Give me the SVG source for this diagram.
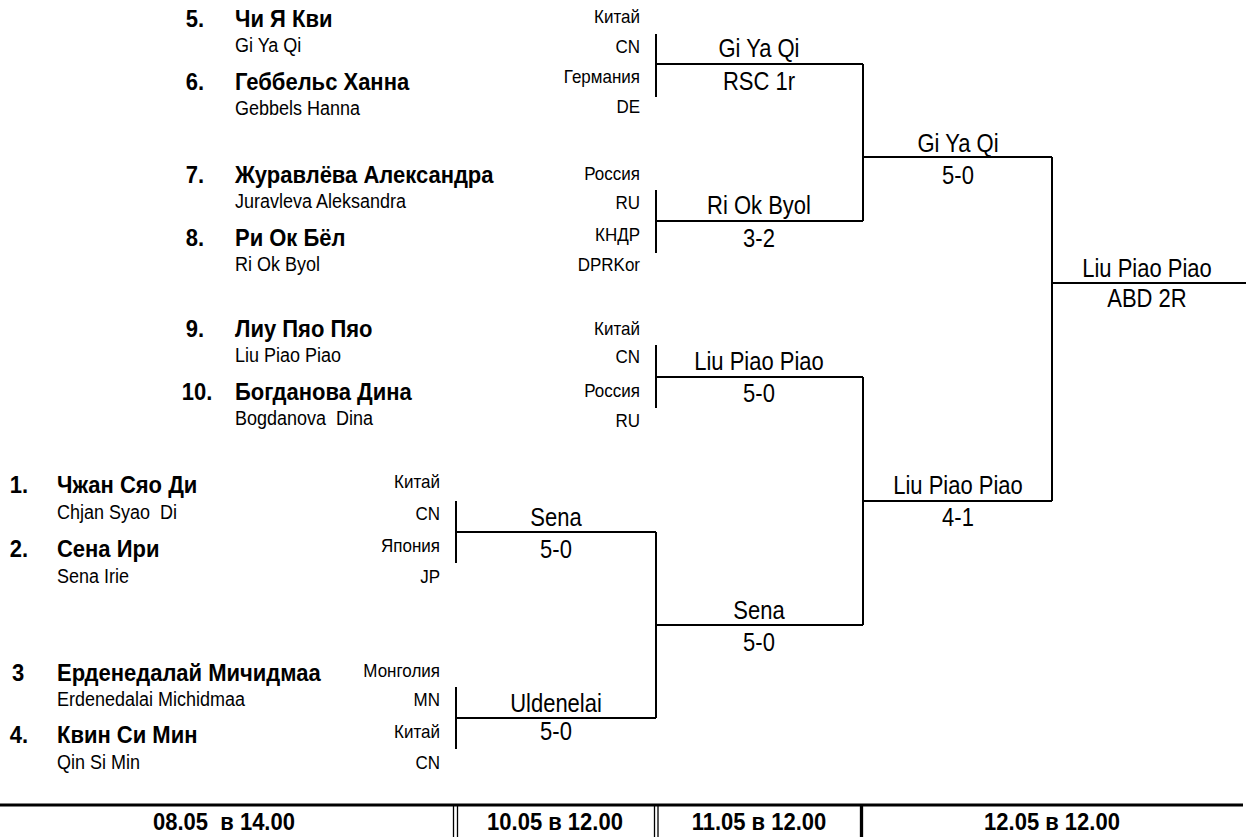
<svg xmlns="http://www.w3.org/2000/svg" width="1246" height="837" viewBox="0 0 1246 837">
<style>
text{font-family:"Liberation Sans",Arial,sans-serif;fill:#000;white-space:pre;transform-box:fill-box;transform-origin:0 81%;transform:scaleY(1.1)}
.num{font-size:22px;font-weight:bold;text-anchor:middle}
.nm{font-size:22px;font-weight:bold}
.sub{font-size:18px}
.cty{font-size:17px;text-anchor:end}
.lbl{font-size:22px;text-anchor:middle;transform:scaleY(1.15)}
.ft{font-size:22px;font-weight:bold;text-anchor:middle}
.ln{stroke:#000;stroke-width:2;fill:none}
</style>
<rect width="1246" height="837" fill="#fff"/>
<g id="connectors">
<path class="ln" d="M656,34V97M656,64H863M656,190V253M656,221H863M863,64V221M863,157H1052"/>
<path class="ln" d="M656,345V408M656,377H863M863,377V625M863,501H1052M1052,157V501M1052,283H1246"/>
<path class="ln" d="M456,501V563M456,532H656M456,687V749M456,718H656M656,532V718M656,625H863"/>
</g>
<g id="p5"><text class="num" x="195" y="27">5.</text><text class="nm" x="235" y="27">Чи Я Кви</text><text class="sub" x="235" y="52">Gi Ya Qi</text><text class="cty" x="640" y="23">Китай</text><text class="cty" x="640" y="53">CN</text></g>
<g id="p6"><text class="num" x="195" y="90">6.</text><text class="nm" x="235" y="90">Геббельс Ханна</text><text class="sub" x="235" y="115">Gebbels Hanna</text><text class="cty" x="640" y="83">Германия</text><text class="cty" x="640" y="113">DE</text></g>
<g id="p7"><text class="num" x="195" y="183">7.</text><text class="nm" x="235" y="183">Журавлёва Александра</text><text class="sub" x="235" y="208">Juravleva Aleksandra</text><text class="cty" x="640" y="180">Россия</text><text class="cty" x="640" y="209">RU</text></g>
<g id="p8"><text class="num" x="195" y="246">8.</text><text class="nm" x="235" y="246">Ри Ок Бёл</text><text class="sub" x="235" y="271">Ri Ok Byol</text><text class="cty" x="640" y="241">КНДР</text><text class="cty" x="640" y="271">DPRKor</text></g>
<g id="p9"><text class="num" x="195" y="337">9.</text><text class="nm" x="235" y="337">Лиу Пяо Пяо</text><text class="sub" x="235" y="362">Liu Piao Piao</text><text class="cty" x="640" y="335">Китай</text><text class="cty" x="640" y="363">CN</text></g>
<g id="p10"><text class="num" x="197" y="400">10.</text><text class="nm" x="235" y="400">Богданова Дина</text><text class="sub" x="235" y="425">Bogdanova  Dina</text><text class="cty" x="640" y="397">Россия</text><text class="cty" x="640" y="427">RU</text></g>
<g id="p1"><text class="num" x="19" y="493">1.</text><text class="nm" x="57" y="493">Чжан Сяо Ди</text><text class="sub" x="57" y="519">Chjan Syao  Di</text><text class="cty" x="440" y="488">Китай</text><text class="cty" x="440" y="520">CN</text></g>
<g id="p2"><text class="num" x="19" y="557">2.</text><text class="nm" x="57" y="557">Сена Ири</text><text class="sub" x="57" y="583">Sena Irie</text><text class="cty" x="440" y="552">Япония</text><text class="cty" x="440" y="583">JP</text></g>
<g id="p3"><text class="num" x="18" y="681">3</text><text class="nm" x="57" y="681">Ерденедалай Мичидмаа</text><text class="sub" x="57" y="706">Erdenedalai Michidmaa</text><text class="cty" x="440" y="677">Монголия</text><text class="cty" x="440" y="706">MN</text></g>
<g id="p4"><text class="num" x="19" y="743">4.</text><text class="nm" x="57" y="743">Квин Си Мин</text><text class="sub" x="57" y="769">Qin Si Min</text><text class="cty" x="440" y="738">Китай</text><text class="cty" x="440" y="769">CN</text></g>
<g id="m56"><text class="lbl" x="759" y="57">Gi Ya Qi</text><text class="lbl" x="759" y="90">RSC 1r</text></g>
<g id="m78"><text class="lbl" x="759" y="214">Ri Ok Byol</text><text class="lbl" x="759" y="247">3-2</text></g>
<g id="m910"><text class="lbl" x="759" y="370">Liu Piao Piao</text><text class="lbl" x="759" y="402">5-0</text></g>
<g id="m12"><text class="lbl" x="556" y="526">Sena</text><text class="lbl" x="556" y="558">5-0</text></g>
<g id="m34"><text class="lbl" x="556" y="712">Uldenelai</text><text class="lbl" x="556" y="740">5-0</text></g>
<g id="sf1"><text class="lbl" x="958" y="152">Gi Ya Qi</text><text class="lbl" x="958" y="184">5-0</text></g>
<g id="sf2"><text class="lbl" x="958" y="494">Liu Piao Piao</text><text class="lbl" x="958" y="526">4-1</text></g>
<g id="qf"><text class="lbl" x="759" y="619">Sena</text><text class="lbl" x="759" y="651">5-0</text></g>
<g id="final"><text class="lbl" x="1147" y="277">Liu Piao Piao</text><text class="lbl" x="1147" y="307">ABD 2R</text></g>
<g id="footer">
<line x1="0" y1="805" x2="1243" y2="805" stroke="#000" stroke-width="3"/>
<path d="M453.5,805V837M457.5,805V837M654.5,805V837M658,805V837" stroke="#000" stroke-width="1.3" fill="none"/>
<line x1="861.5" y1="805" x2="861.5" y2="837" stroke="#000" stroke-width="3.3"/>
<text class="ft" x="224" y="830">08.05  в 14.00</text>
<text class="ft" x="555" y="830">10.05 в 12.00</text>
<text class="ft" x="759" y="830">11.05 в 12.00</text>
<text class="ft" x="1052" y="830">12.05 в 12.00</text>
</g>
</svg>
